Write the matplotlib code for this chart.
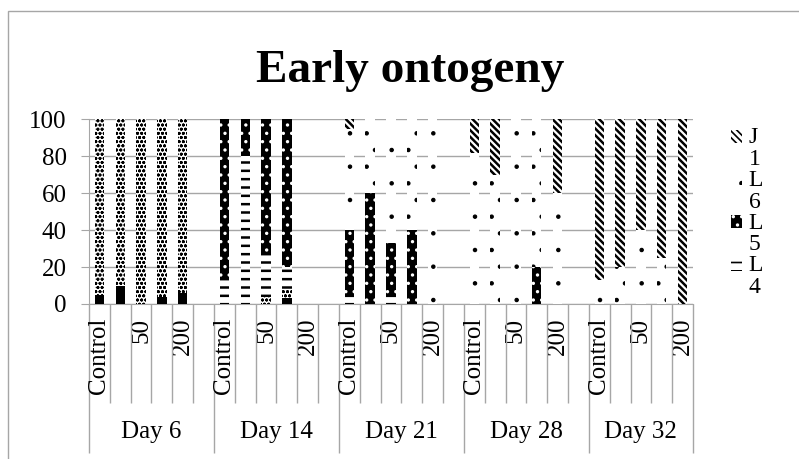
import numpy as np
import matplotlib
matplotlib.use("Agg")
import matplotlib.pyplot as plt
import matplotlib.patches as mpatches
from matplotlib.legend_handler import HandlerPatch

plt.rcParams['font.family'] = ['Liberation Serif', 'DejaVu Serif']
plt.rcParams['hatch.linewidth'] = 1.2

# data (percent of individuals at each stage)
days = ["Day 6", "Day 14", "Day 21", "Day 28", "Day 32"]
concs = ["Control", "25", "50", "100", "200"]
stages = ["L2", "L3", "L4", "L5", "L6", "J1"]

L2 = [5, 10, 0, 4, 6,   0, 0, 0, 3, 0,   0, 0, 0, 0, 0,   0, 0, 0, 0, 0,   0, 0, 0, 0, 0]
L3 = [95, 90, 100, 96, 94,   0, 0, 4, 5, 0,   0, 0, 0, 0, 0,   0, 0, 0, 0, 0,   0, 0, 0, 0, 0]
L4 = [0, 0, 0, 0, 0,   13, 80, 23, 12, 0,   5, 0, 5, 0, 0,   0, 0, 0, 0, 0,   0, 0, 0, 0, 0]
L5 = [0, 0, 0, 0, 0,   87, 20, 73, 80, 0,   35, 60, 28, 40, 0,   0, 0, 0, 20, 0,   0, 0, 0, 0, 0]
L6 = [0, 0, 0, 0, 0,   0, 0, 0, 0, 0,   55, 40, 67, 60, 100,   82, 70, 100, 80, 60,   13, 20, 40, 25, 0]
J1 = [0, 0, 0, 0, 0,   0, 0, 0, 0, 0,   5, 0, 0, 0, 0,   18, 30, 0, 0, 40,   87, 80, 60, 75, 100]

series = [L2, L3, L4, L5, L6, J1]
# face, hatch colour, hatch, hatch width
styles = [("black", "black", "", 1.0),
          ("white", "black", "oooo", 0.9),
          ("white", "black", "--", 1.8),
          ("black", "white", "..", 1.2),
          ("white", "black", ".", 0.8),
          ("white", "black", "\\\\\\\\\\", 1.8)]

gray = "#a6a6a6"

# slot positions: each day has 5 concentrations + one blank slot (except last day)
n_c = len(concs)
x = np.array([d * (n_c + 1) + c for d in range(len(days)) for c in range(n_c)])
n_slots = len(days) * (n_c + 1) - 1

fig = plt.figure(figsize=(7.99, 4.59), dpi=100)
ax = fig.add_axes([89 / 799, 1 - 304 / 459, (693 - 89) / 799, (304 - 119.3) / 459])

bottom = np.zeros(len(x))
handles = {}
for name, vals, (fc, hc, hatch, hw) in zip(stages, series, styles):
    bars = ax.bar(x, vals, 0.45, bottom=bottom, color=fc, edgecolor=hc,
                  hatch=hatch, linewidth=0, zorder=3)
    for b in bars:
        b.set_hatch_linewidth(hw)
    handles[name] = bars[0]
    bottom += np.array(vals)

ax.set_xlim(-0.5, n_slots - 0.5)
ax.set_ylim(0, 100)
ax.set_yticks(range(0, 101, 20))
ax.grid(axis='y', color=gray, linewidth=1)
ax.set_axisbelow(True)
for s in ['top', 'right']:
    ax.spines[s].set_visible(False)
for s in ['left', 'bottom']:
    ax.spines[s].set_color(gray)
ax.tick_params(axis='y', length=6, color=gray, labelsize=18, pad=10)

# category labels (every other one shown, like the original)
lab_pos = [p for i, p in enumerate(x) if i % n_c in (0, 2, 4)]
lab_txt = [concs[i % n_c] for i in range(len(x)) if i % n_c in (0, 2, 4)]
ax.set_xticks(lab_pos, labels=lab_txt, rotation=90, fontsize=18)
ax.tick_params(axis='x', which='major', length=0, pad=10)

day_edges = [d * (n_c + 1) - 0.5 for d in range(len(days))] + [n_slots - 0.5]
slot_edges = [e for e in np.arange(-0.5, n_slots, 1.0) if e not in day_edges]
ax.set_xticks(slot_edges, minor=True)
ax.tick_params(axis='x', which='minor', length=71, color=gray, width=1)

sec = ax.secondary_xaxis('bottom')
sec.set_xticks(day_edges, labels=[])
sec.tick_params(length=107, color=gray, width=1)
sec.spines['bottom'].set_visible(False)

day_centers = [(day_edges[i] + day_edges[i + 1]) / 2 for i in range(len(days))]
sec2 = ax.secondary_xaxis('bottom')
sec2.set_xticks(day_centers, labels=days, fontsize=18)
sec2.tick_params(length=0, pad=84)
sec2.spines['bottom'].set_visible(False)

fig.text(410 / 799, 1 - 82 / 459, "Early ontogeny", ha='center', va='baseline',
         fontsize=34, fontweight='bold')

# outer chart frame
fig.add_artist(mpatches.Rectangle((8 / 799, -0.5), 2, 1.5 - 11 / 459,
                                  transform=fig.transFigure, fill=False,
                                  edgecolor=gray, linewidth=1))


def top_patch(legend, orig_handle, xdescent, ydescent, width, height, fontsize):
    return mpatches.Rectangle((-xdescent, -ydescent + 0.5 * fontsize), width, height)


leg_names = ["J1", "L6", "L5", "L4"]
leg = fig.legend([handles[n] for n in leg_names], [n[0] + "\n" + n[1:] for n in leg_names],
                 loc='upper left', bbox_to_anchor=(731 / 799, 1 - 127 / 459),
                 frameon=False, fontsize=17, handlelength=0.45, handleheight=0.45,
                 handletextpad=0.3, labelspacing=0.0, borderpad=0, borderaxespad=0,
                 handler_map={mpatches.Rectangle: HandlerPatch(patch_func=top_patch)})
for t in leg.get_texts():
    t.set_linespacing(1.05)

fig.savefig("out.png", dpi=100)
